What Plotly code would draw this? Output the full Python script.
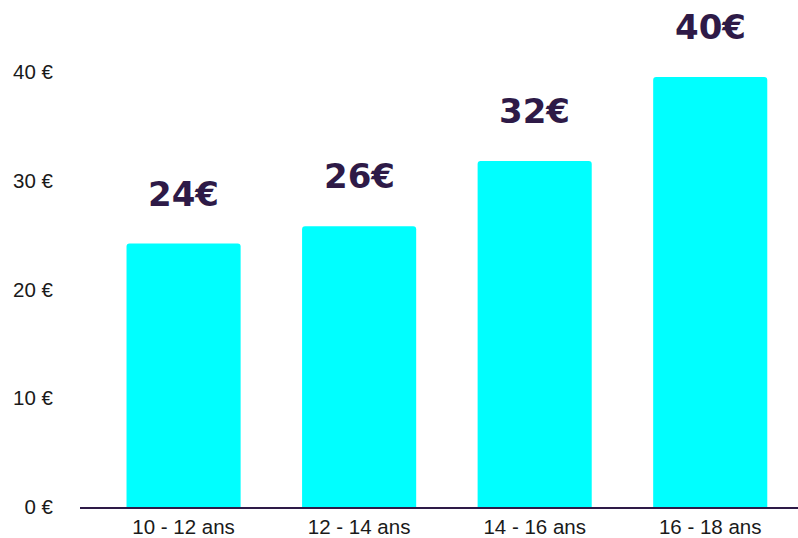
import plotly.graph_objects as go

categories = ["10 - 12 ans", "12 - 14 ans", "14 - 16 ans", "16 - 18 ans"]
values = [24.2, 25.8, 31.8, 39.5]
labels = ["24€", "26€", "32€", "40€"]
y_ticks = [0, 10, 20, 30, 40]
y_ticktext = ["0 €", "10 €", "20 €", "30 €", "40 €"]

purple = "#2E1A47"

fig = go.Figure()
fig.add_trace(
    go.Bar(
        x=list(range(len(categories))),
        y=values,
        marker=dict(color="#00FFFF", cornerradius=3, line=dict(width=0)),
        width=0.65,
        hoverinfo="skip",
    )
)

for i, (v, lab) in enumerate(zip(values, labels)):
    fig.add_annotation(
        x=i,
        y=v,
        text=lab,
        showarrow=False,
        yanchor="middle",
        yshift=50,
        font=dict(family="DejaVu Sans", size=34, color=purple, weight="bold"),
    )

fig.update_layout(
    width=798,
    height=538,
    margin=dict(l=80, r=0, t=39, b=31),
    paper_bgcolor="white",
    plot_bgcolor="white",
    showlegend=False,
    font=dict(family="Liberation Sans, Arial", size=20.5, color="#1a1a1a"),
    xaxis=dict(
        range=[-0.59, 3.5],
        tickmode="array",
        tickvals=list(range(len(categories))),
        ticktext=categories,
        showgrid=False,
        zeroline=False,
        showline=True,
        linecolor=purple,
        linewidth=2,
        ticks="",
        fixedrange=True,
    ),
    yaxis=dict(
        range=[0, 43],
        tickmode="array",
        tickvals=y_ticks,
        ticktext=y_ticktext,
        showgrid=False,
        zeroline=False,
        showline=False,
        ticks="",
        ticklabelstandoff=26,
        fixedrange=True,
    ),
)

fig.write_html(
    "out.html",
    config={"displayModeBar": False},
    post_script="document.body.style.margin='0';",
)
